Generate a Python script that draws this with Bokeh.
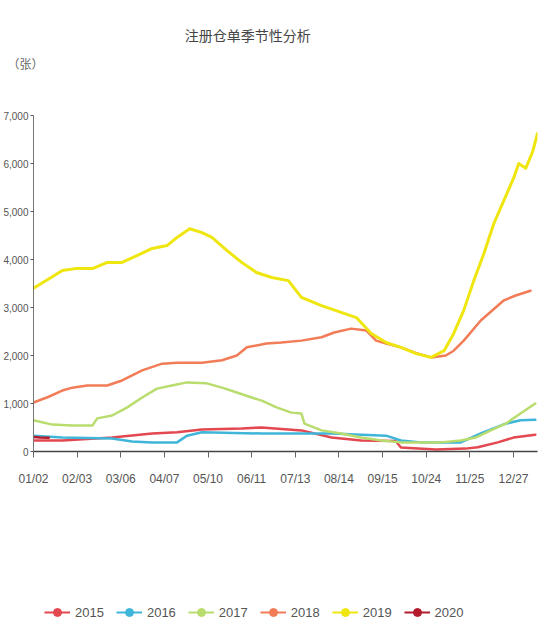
from bokeh.plotting import figure
from bokeh.models import (FixedTicker, NumeralTickFormatter, Legend, LegendItem,
                          Label, Title, ColumnDataSource, Range1d)
from bokeh.layouts import column
from bokeh.embed import file_html
from bokeh.resources import INLINE

# ---------------- data (x in "tick index" units: 0 = 01/02 ... 11 = 12/27) ----------------
title_text = "注册仓单季节性分析"
unit_text = "（张）"
tick_labels = ["01/02", "02/03", "03/06", "04/07", "05/10", "06/11",
               "07/13", "08/14", "09/15", "10/24", "11/25", "12/27"]
years = ["2015", "2016", "2017", "2018", "2019", "2020"]

x2015 = [0, 0.66, 1.80, 2.72, 3.29, 3.86, 4.77, 5.23, 6.14, 6.83, 7.51, 8.30, 8.42, 9.22, 9.90, 10.18, 10.64, 11.0, 11.5]
y2015 = [230, 230, 290, 375, 400, 460, 480, 500, 440, 290, 230, 220, 85, 40, 60, 90, 190, 290, 350]

x2016 = [0, 0.66, 1.80, 2.26, 2.72, 3.29, 3.52, 3.86, 5.23, 6.83, 8.08, 8.42, 8.88, 9.79, 10.25, 10.82, 11.16, 11.5]
y2016 = [330, 290, 270, 210, 190, 190, 330, 400, 375, 375, 330, 230, 190, 190, 375, 580, 650, 660]

x2017 = [0, 0.43, 0.89, 1.35, 1.46, 1.80, 2.15, 2.49, 2.83, 3.17, 3.52, 3.97, 4.32, 4.66, 5.0, 5.23, 5.57, 5.91, 6.14, 6.21,
         6.60, 7.05, 7.51, 7.97, 8.42, 9.33, 9.79, 10.13, 10.48, 10.82, 11.16, 11.5]
y2017 = [650, 560, 540, 540, 690, 750, 920, 1125, 1310, 1375, 1440, 1420, 1330, 1230, 1125, 1060, 920, 810, 790, 580,
         440, 375, 290, 230, 190, 190, 230, 290, 440, 580, 790, 1000]

x2018 = [0, 0.32, 0.66, 0.89, 1.23, 1.69, 2.03, 2.49, 2.95, 3.29, 3.86, 4.32, 4.66, 4.89, 5.34, 5.68, 6.14, 6.60, 6.89,
         7.28, 7.63, 7.85, 8.08, 8.42, 8.77, 9.11, 9.45, 9.63, 9.86, 10.25, 10.78, 11.05, 11.39]
y2018 = [1020, 1130, 1270, 1330, 1375, 1375, 1480, 1690, 1830, 1850, 1850, 1900, 2000, 2170, 2250, 2270, 2310, 2380, 2480,
         2560, 2520, 2310, 2250, 2170, 2050, 1960, 2000, 2100, 2310, 2730, 3150, 3250, 3350]

x2019 = [0, 0.32, 0.66, 0.96, 1.35, 1.69, 2.03, 2.37, 2.72, 3.06, 3.29, 3.58, 3.86, 4.09, 4.43, 4.77, 5.11, 5.46, 5.84,
         6.14, 6.60, 7.05, 7.40, 7.74, 8.08, 8.42, 8.77, 9.11, 9.41, 9.63, 9.86, 10.09, 10.32, 10.55, 10.78, 11.0, 11.12,
         11.28, 11.44, 11.55]
y2019 = [3400, 3580, 3770, 3810, 3810, 3940, 3940, 4080, 4230, 4290, 4460, 4640, 4560, 4460, 4190, 3940, 3730, 3625, 3560,
         3210, 3040, 2900, 2790, 2460, 2270, 2170, 2040, 1960, 2100, 2460, 2940, 3560, 4120, 4750, 5230, 5690, 6000,
         5900, 6250, 6625]

x2020 = [0, 0.15, 0.35]
y2020 = [300, 290, 285]

colors = ["#e3474f", "#3fb6d9", "#b9dc6e", "#f27c58", "#eee60e", "#b31b2c"]
widths = [2.5, 2.5, 2.5, 2.5, 3, 2.5]
series_x = [x2015, x2016, x2017, x2018, x2019, x2020]
series_y = [y2015, y2016, y2017, y2018, y2019, y2020]

FONT = "Liberation Sans"
CJK = "Noto Sans CJK SC"
GRAY = "#555555"
W = 541
FRAME_L, FRAME_R = 31, 537   # frame edges shared by the column (canvas px)


def bare(fig):
    fig.axis.visible = False
    fig.xgrid.visible = False
    fig.ygrid.visible = False
    fig.outline_line_color = None
    fig.min_border = 0
    fig.border_fill_color = "white"
    fig.background_fill_color = "white"


# ---------------- header strip ----------------
HEAD_H = 107
HEAD_FRAME = 54
hd = figure(width=W, height=HEAD_H, x_range=Range1d(FRAME_L, FRAME_R), y_range=Range1d(HEAD_FRAME, 0),
            output_backend="svg", toolbar_location=None)
bare(hd)
hd.min_border_bottom = HEAD_H - HEAD_FRAME
hd.add_layout(Label(x=246, y=34, text=title_text, text_font=CJK, text_font_size="14px",
                    text_color="#444444", text_align="center", text_baseline="middle"))
hd.add_layout(Title(text=unit_text, align="left", vertical_align="top", text_font=CJK,
                    text_font_size="12px", text_color="#666666", text_font_style="normal",
                    offset=-26, standoff=0), "below")

# ---------------- main chart ----------------
p = figure(width=W, height=485, x_range=(0, 11.55), y_range=(0, 7000),
           output_backend="svg", toolbar_location=None)
p.min_border_left = 0
p.min_border_right = W - FRAME_R
p.min_border_top = 8
p.min_border_bottom = 141
p.outline_line_color = None
p.xgrid.visible = False
p.ygrid.visible = False
p.background_fill_color = "white"
p.border_fill_color = "white"

for xs, ys, c, w in zip(series_x, series_y, colors, widths):
    p.line(xs, ys, line_color=c, line_width=w, line_join="round", line_cap="round")

# y axis
p.yaxis.ticker = FixedTicker(ticks=list(range(0, 7001, 1000)))
p.yaxis.formatter = NumeralTickFormatter(format="0,0")
p.yaxis.major_label_text_font = FONT
p.yaxis.major_label_text_font_size = "10px"
p.yaxis.major_label_text_color = GRAY
p.yaxis.axis_line_color = "#777777"
p.yaxis.major_tick_line_color = "#555555"
p.yaxis.major_tick_in = 0
p.yaxis.major_tick_out = 3
p.yaxis.minor_tick_line_color = None
p.yaxis.major_label_standoff = 2

# x axis
p.xaxis.ticker = FixedTicker(ticks=list(range(12)))
p.xaxis.major_label_overrides = {i: t for i, t in enumerate(tick_labels)}
p.xaxis.major_label_text_font = FONT
p.xaxis.major_label_text_font_size = "12px"
p.xaxis.major_label_text_color = GRAY
p.xaxis.axis_line_color = "#444444"
p.xaxis.axis_line_width = 1.5
p.xaxis.major_tick_line_color = "#666666"
p.xaxis.major_tick_in = 0
p.xaxis.major_tick_out = 6
p.xaxis.minor_tick_line_color = None
p.xaxis.major_label_standoff = 14

# ---------------- legend strip ----------------
lg = figure(width=W, height=30, x_range=(0, 1), y_range=(0, 1),
            output_backend="svg", toolbar_location=None)
bare(lg)
items = []
for yr, c in zip(years, colors):
    # legend-only renderers: one point kept outside the strip's visible range
    src = ColumnDataSource(dict(x=[5], y=[5]))
    r1 = lg.line("x", "y", source=src, line_color=c, line_width=2)
    r2 = lg.scatter("x", "y", source=src, marker="circle", size=10, fill_color=c, line_color=c)
    items.append(LegendItem(label=yr, renderers=[r1, r2]))
leg = Legend(items=items, orientation="horizontal", location=(42 - FRAME_L, 0),
             label_text_font=FONT, label_text_font_size="13px", label_text_color=GRAY,
             border_line_color=None, background_fill_alpha=0, spacing=12,
             glyph_width=26, label_standoff=5, padding=0, margin=0)
lg.add_layout(leg, "center")

layout = column(hd, p, lg, spacing=0)
open("out.html", "w").write(file_html(layout, INLINE))
